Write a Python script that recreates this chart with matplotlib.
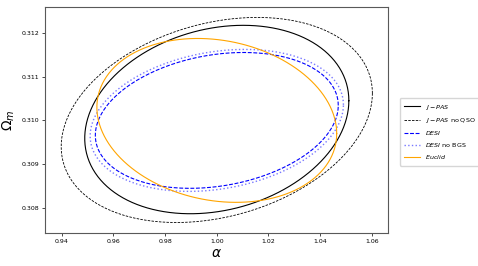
import numpy as np
import matplotlib
matplotlib.use("Agg")
import matplotlib.pyplot as plt

# forecast ellipses (alpha, Omega_m): centre, half extents, correlation
labels = [r"$J-PAS$", r"$J-PAS$ no QSO", r"$DESI$", r"$DESI$ no BGS", r"$Euclid$"]
alpha_c = [1.0, 1.0, 1.0, 1.0, 1.0]
om_c = [0.31002, 0.31001, 0.3100, 0.3100, 0.3100]
alpha_w = [0.0511, 0.0602, 0.0470, 0.0490, 0.0464]
om_w = [0.00215, 0.00234, 0.00155, 0.00162, 0.00187]
rho = [0.20, 0.26, 0.22, 0.22, -0.16]

colors = ["black", "black", "blue", "#7878ff", "orange"]
styles = ["-", (0, (3, 1.5)), (0, (3.5, 1.5)), ":", "-"]
widths = [0.8, 0.6, 0.8, 1.0, 0.8]

fig = plt.figure(figsize=(4.78, 2.66), dpi=100)
ax = fig.add_axes([0.094, 0.124, 0.718, 0.850])

t = np.linspace(0, 2 * np.pi, 400)
for i in range(len(labels)):
    x = alpha_c[i] + alpha_w[i] * np.cos(t)
    y = om_c[i] + om_w[i] * (rho[i] * np.cos(t) + np.sqrt(1 - rho[i] ** 2) * np.sin(t))
    ax.plot(x, y, color=colors[i], ls=styles[i], lw=widths[i], label=labels[i])

ax.set_xlim(0.9335, 1.0663)
ax.set_ylim(0.30743, 0.31259)
ax.set_xticks([0.94, 0.96, 0.98, 1.00, 1.02, 1.04, 1.06])
ax.set_yticks([0.308, 0.309, 0.310, 0.311, 0.312])
ax.tick_params(labelsize=4.5, width=0.5, length=2, pad=2)
for s in ax.spines.values():
    s.set_linewidth(0.8)
    s.set_color("0.35")
ax.set_xlabel(r"$\alpha$", fontsize=10, labelpad=2)
ax.set_ylabel(r"$\Omega_m$", fontsize=10, labelpad=3)

ax.legend(loc="center left", bbox_to_anchor=(1.025, 0.447), fontsize=4.6,
          handlelength=2.4, borderpad=0.7, labelspacing=0.65, handletextpad=0.8)

fig.savefig("out.png", dpi=100)
